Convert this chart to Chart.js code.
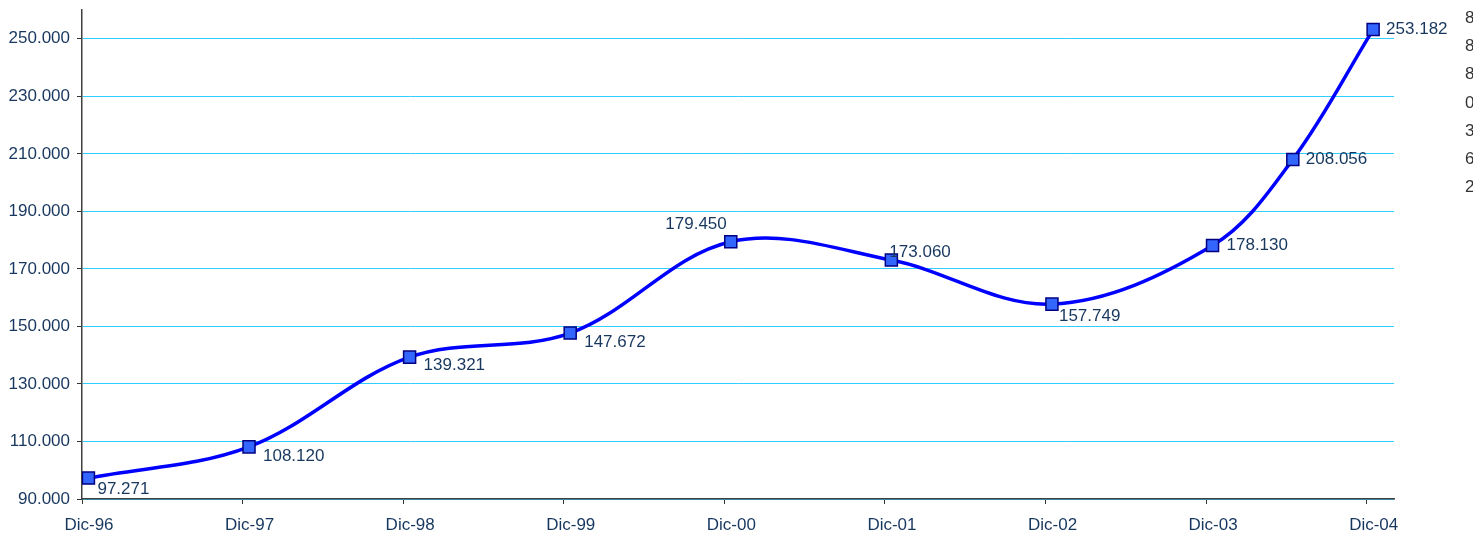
<!DOCTYPE html>
<html>
<head>
<meta charset="utf-8">
<script src="https://cdn.jsdelivr.net/npm/chart.js@4.4.1/dist/chart.umd.min.js"></script>
<style>
  html, body { margin: 0; padding: 0; background: #fff; }
  #wrap { width: 1473px; height: 537px; }
</style>
</head>
<body>
<div id="wrap"><canvas id="myChart" width="1473" height="537"></canvas></div>
<script>
// x positions in years from Dic-96 (points sit mid-month, one point in mid 2004)
const xPos = [0.04, 1.04, 2.04, 3.04, 4.04, 5.04, 6.04, 7.04, 7.54, 8.04];
const yValues = [97271, 108120, 139321, 147672, 179450, 173060, 157749, 178130, 208056, 253182];
const xTickLabels = ["Dic-96", "Dic-97", "Dic-98", "Dic-99", "Dic-00", "Dic-01", "Dic-02", "Dic-03", "Dic-04"];
const yTicks = [90000, 110000, 130000, 150000, 170000, 190000, 210000, 230000, 250000];
// cut-off text at the right border of the picture
const edgeTexts = ["8", "8", "8", "0", "3", "6", "2"];

const textColor = "#17375e";
const fontFamily = "'Liberation Sans', Arial, sans-serif";
const fontSize = 17;

function fmt(v) {
    return String(Math.round(v)).replace(/\B(?=(\d{3})+(?!\d))/g, ".");
}

const pointLabels = {
    id: "pointLabels",
    afterDatasetsDraw(chart) {
        // dx, dy, align for each label
        const place = [
            [9, 11, "left"], [14, 9, "left"], [14, 8, "left"], [14, 9, "left"],
            [-4, -17, "right"], [-2, -8, "left"], [7, 12, "left"],
            [14, 0, "left"], [13, 0, "left"], [13, 0, "left"]
        ];
        const ctx = chart.ctx;
        const meta = chart.getDatasetMeta(0);
        ctx.save();
        ctx.font = fontSize + "px " + fontFamily;
        ctx.fillStyle = textColor;
        ctx.textBaseline = "middle";
        meta.data.forEach((pt, i) => {
            const p = place[i];
            ctx.textAlign = p[2];
            ctx.fillText(fmt(yValues[i]), pt.x + p[0], pt.y + p[1]);
        });
        ctx.restore();
    },
    afterDraw(chart) {
        const ctx = chart.ctx;
        ctx.save();
        ctx.font = fontSize + "px " + fontFamily;
        ctx.fillStyle = "#333333";
        ctx.textBaseline = "middle";
        ctx.textAlign = "left";
        edgeTexts.forEach((t, i) => {
            ctx.fillText(t, 1465, 18 + i * 28.3);
        });
        ctx.restore();
    }
};

new Chart("myChart", {
    type: "line",
    data: {
        datasets: [{
            data: xPos.map((x, i) => ({ x: x, y: yValues[i] })),
            borderColor: "#0000ff",
            borderWidth: 3.5,
            tension: 0.35,
            fill: false,
            pointStyle: "rect",
            pointRadius: 8.5,
            pointHoverRadius: 8.5,
            pointBackgroundColor: "#3366ff",
            pointBorderColor: "#000080",
            pointBorderWidth: 1.5
        }]
    },
    options: {
        responsive: false,
        animation: false,
        events: [],
        layout: { padding: { top: 7, right: 79, left: 0, bottom: 0 } },
        plugins: {
            legend: { display: false },
            tooltip: { enabled: false }
        },
        scales: {
            x: {
                type: "linear",
                min: 0,
                max: 8.17,
                afterBuildTicks: (scale) => {
                    scale.ticks = xTickLabels.map((_, i) => ({ value: i }));
                },
                afterFit: (scale) => {
                    scale.height = 38;
                    scale.paddingLeft = 0;
                    scale.paddingRight = 0;
                },
                ticks: {
                    callback: (v) => xTickLabels[v],
                    color: textColor,
                    font: { family: fontFamily, size: fontSize },
                    padding: 11,
                    labelOffset: 7,
                    maxRotation: 0,
                    autoSkip: false
                },
                grid: {
                    drawOnChartArea: false,
                    drawTicks: true,
                    tickLength: 5,
                    tickColor: "#333333"
                },
                border: { color: "#404040", width: 1.5 }
            },
            y: {
                min: 90000,
                max: 260000,
                afterBuildTicks: (scale) => {
                    scale.ticks = yTicks.map((v) => ({ value: v }));
                },
                afterFit: (scale) => {
                    scale.width = 82;
                    scale.paddingTop = 0;
                    scale.paddingBottom = 0;
                },
                ticks: {
                    callback: (v) => fmt(v),
                    color: textColor,
                    font: { family: fontFamily, size: fontSize },
                    padding: 7
                },
                grid: {
                    color: "#33ccff",
                    lineWidth: 1,
                    tickLength: 5,
                    tickColor: "#333333"
                },
                border: { color: "#404040", width: 1.5 }
            }
        }
    },
    plugins: [pointLabels]
});
</script>
</body>
</html>
